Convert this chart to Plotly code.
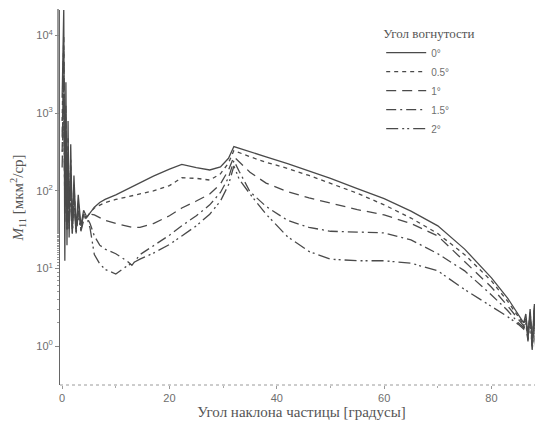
import plotly.graph_objects as go

# Tilt angle of the particle [degrees] (shared grid)
angles = [0, 0.3, 0.5, 0.7, 0.9, 1.1, 1.3, 1.6, 1.9, 2.2, 2.6, 3.0, 3.5, 4.0, 4.6,
          5.2, 6.0, 7.0, 8.0, 10.0, 12.0, 13.0, 14.5, 17.0, 20.0, 22.3, 25.0, 27.5,
          29.5, 31.0, 32.0, 33.0, 35.0, 38.0, 42.0, 46.0, 50.0, 55.0, 60.0, 65.0,
          70.0, 75.0, 80.0, 83.0, 85.0, 86.0, 86.4, 86.8, 87.2, 87.6, 88.0, 88.3,
          88.6, 88.9, 89.2, 89.5, 89.8]

# M11 values [мкм²/ср] for each concavity angle
m11_0 = [1580, 22400, 12.6, 2510, 20.0, 794, 25.1, 398, 28.2, 158, 31.6, 89.1, 35.5, 56.2, 45.7,
         52.5, 61.7, 70.8, 77.6, 89.1, 105, 112, 129, 155, 191, 219, 200, 186,
         204, 263, 372, 355, 316, 275, 224, 182, 145, 107, 79.4, 55.0,
         35.5, 17.8, 7.59, 4.17, 2.51, 2.0, 2.6, 1.4, 3.0, 1.1, 3.5, 0.85,
         4.0, 0.70, 4.5, 0.55, 3.2]
m11_05 = [794, 10000, 39.8, 1259, 31.6, 501, 39.8, 251, 31.6, 126, 28.2, 70.8, 31.6, 50.1, 45.7,
          52.5, 60.3, 66.1, 70.8, 77.6, 83.2, 87.1, 91.2, 100, 117, 148, 145, 138,
          166, 229, 331, 309, 275, 234, 195, 158, 126, 93.3, 66.1, 44.7,
          28.2, 15.1, 6.92, 3.80, 2.40, 1.91, 2.4, 1.3, 2.8, 1.0, 3.3, 0.8,
          3.8, 0.65, 4.2, 0.5, 3.0]
m11_1 = [501, 6310, 63.1, 794, 39.8, 316, 31.6, 158, 35.5, 100, 31.6, 63.1, 35.5, 47.9, 45.7,
         50.1, 49.0, 44.7, 41.7, 38.0, 35.5, 33.9, 33.9, 38.0, 47.9, 60.3, 74.1, 91.2,
         123, 186, 275, 234, 174, 126, 97.7, 81.3, 69.2, 57.5, 49.0, 38.0,
         26.3, 12.3, 5.75, 3.31, 2.19, 1.82, 2.2, 1.25, 2.6, 0.95, 3.1, 0.75,
         3.6, 0.6, 4.0, 0.48, 2.8]
m11_15 = [316, 3980, 50.1, 631, 31.6, 251, 35.5, 126, 28.2, 89.1, 31.6, 56.2, 31.6, 44.7, 45.7,
          38.0, 26.3, 20.0, 17.8, 15.5, 12.6, 11.0, 15.1, 19.5, 26.9, 35.5, 47.9, 66.1,
          95.5, 148, 245, 178, 97.7, 63.1, 41.7, 33.9, 30.2, 29.5, 28.8, 23.4,
          15.5, 9.33, 4.57, 2.88, 2.0, 1.74, 2.1, 1.2, 2.5, 0.9, 3.0, 0.72,
          3.4, 0.58, 3.8, 0.46, 2.7]
m11_2 = [200, 2510, 79.4, 398, 39.8, 200, 31.6, 100, 31.6, 70.8, 28.2, 50.1, 30.2, 41.7, 45.7,
         33.1, 15.1, 11.5, 9.77, 8.51, 10.7, 11.7, 13.2, 15.8, 20.4, 26.3, 35.5, 50.1,
         74.1, 120, 209, 141, 91.2, 50.1, 25.7, 16.6, 13.2, 12.6, 12.6, 11.7,
         9.33, 5.37, 3.24, 2.40, 1.91, 1.66, 2.0, 1.15, 2.4, 0.88, 2.9, 0.7,
         3.3, 0.56, 3.6, 0.44, 2.6]

series_names = ["0°", "0.5°", "1°", "1.5°", "2°"]
series_values = [m11_0, m11_05, m11_1, m11_15, m11_2]
dashes = ["solid", "4px,4px", "10px,6px", "10px,4px,2px,4px", "12px,4px,2px,3px,2px,4px"]

y_tickvals = [1, 10, 100, 1000, 10000]
y_ticktext = ["10<sup>0</sup>", "10<sup>1</sup>", "10<sup>2</sup>", "10<sup>3</sup>", "10<sup>4</sup>"]
x_tickvals = [0, 20, 40, 60, 80]

line_color = "#4a4a4a"
text_color = "#6e6e6e"

fig = go.Figure()
for name, vals, dash in zip(series_names, series_values, dashes):
    fig.add_trace(go.Scatter(
        x=angles, y=vals, mode="lines", name=name,
        line=dict(color=line_color, width=1.3, dash=dash),
    ))

fig.add_shape(type="line", xref="paper", yref="paper", x0=0, x1=1, y0=0, y1=0,
              line=dict(color="#9a9a9a", width=1, dash="dot"))

# page body adds an 8px margin, so the figure is 8px smaller than the window
fig.update_layout(
    width=535, height=413,
    margin=dict(l=52, r=0, t=2, b=36),
    paper_bgcolor="white", plot_bgcolor="white",
    showlegend=True,
    legend=dict(
        x=0.665, y=0.97, xanchor="left", yanchor="top",
        bgcolor="rgba(0,0,0,0)", borderwidth=0,
        title=dict(text="Угол вогнутости",
                   font=dict(family="Liberation Serif", size=13, color="#555")),
        font=dict(family="Liberation Sans", size=10, color=text_color),
        tracegroupgap=0, itemwidth=40,
    ),
    xaxis=dict(
        range=[-0.4, 89.6], tickvals=x_tickvals, automargin=False,
        showgrid=False, zeroline=False, showline=False,
        ticks="outside", ticklen=3, tickcolor="#999",
        minor=dict(dtick=10, ticks="outside", ticklen=2, tickcolor="#aaa"),
        tickfont=dict(family="Liberation Sans", size=11, color=text_color),
        title=dict(text="Угол наклона частицы [градусы]", standoff=2,
                   font=dict(family="Liberation Serif", size=15, color="#555")),
    ),
    yaxis=dict(
        type="log", range=[-0.5, 4.33], automargin=False,
        tickvals=y_tickvals, ticktext=y_ticktext,
        showgrid=False, zeroline=False,
        showline=True, linecolor="#666", linewidth=1,
        ticks="outside", ticklen=4, tickcolor="#888",
        minor=dict(ticks="outside", ticklen=2, tickcolor="#999", showgrid=False),
        tickfont=dict(family="Liberation Sans", size=11, color=text_color),
        title=dict(text="<i>M</i><sub>11</sub> [мкм<sup>2</sup>/ср]", standoff=10,
                   font=dict(family="Liberation Serif", size=15, color="#555")),
    ),
)

fig.write_html("out.html")
